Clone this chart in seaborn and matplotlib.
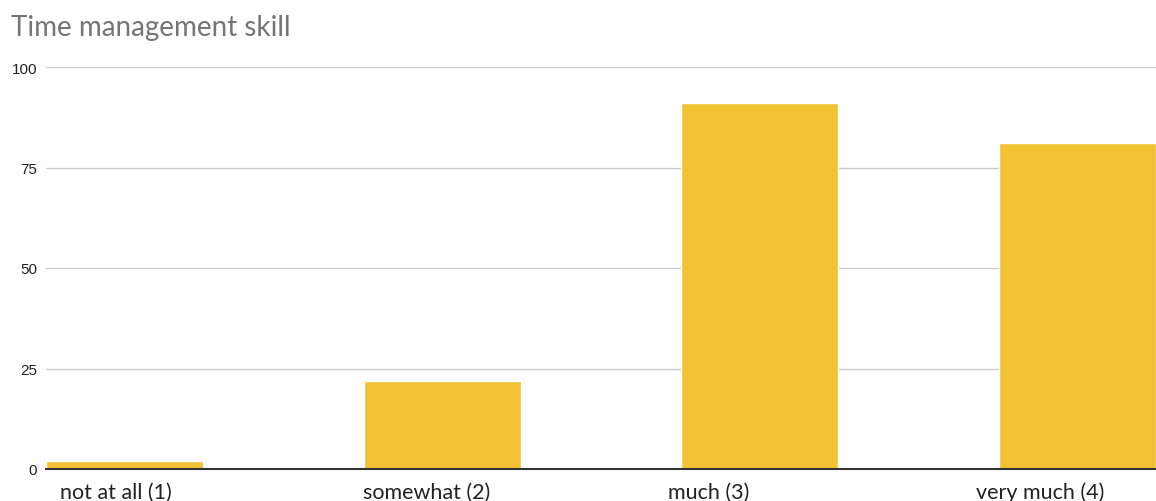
"""
Time management skill - bar chart
"""

import matplotlib
matplotlib.use("Agg")
import matplotlib.pyplot as plt
import matplotlib.transforms as mtransforms
import seaborn as sns
import pandas as pd

# Data
categories = ["not at all (1)", "somewhat (2)", "much (3)", "very much (4)"]
counts = [2, 22, 91, 81]
y_ticks = [0, 25, 50, 75, 100]

df = pd.DataFrame({"Answer": categories, "Count": counts})

sns.set_theme(style="white")
plt.rcParams["font.family"] = ["Lato", "DejaVu Sans"]

fig = plt.figure(figsize=(11.56, 5.02), dpi=100)
ax = fig.add_axes([46 / 1156, 1 - 470 / 502, 1 - 46 / 1156, 402 / 502])

sns.barplot(data=df, x="Answer", y="Count", color="#F1C232", width=0.494,
            saturation=1, ax=ax, zorder=3)

ax.set_xlim(-0.247, 3.247)
ax.set_ylim(0, 100)
ax.set_yticks(y_ticks)
ax.set_yticklabels([str(t) for t in y_ticks], fontsize=11,
                   family=["Liberation Sans", "DejaVu Sans"], color="#222222")
ax.tick_params(axis="y", length=0, pad=6.5)
ax.tick_params(axis="x", length=0, pad=9, labelsize=15.5, colors="#222222")

# the category labels in the original sit a bit left of their bars
label_shift_px = [-9, -16, -51, -37]
for lab, dx in zip(ax.get_xticklabels(), label_shift_px):
    lab.set_transform(lab.get_transform() +
                      mtransforms.ScaledTranslation(dx / 100, 0, fig.dpi_scale_trans))

ax.grid(axis="y", color="#cccccc", linewidth=1, zorder=0)
for s in ["top", "right", "left"]:
    ax.spines[s].set_visible(False)
ax.spines["bottom"].set_color("#333333")
ax.spines["bottom"].set_linewidth(1.5)
ax.spines["bottom"].set_zorder(4)

ax.set_xlabel("")
ax.set_ylabel("")

fig.text(11 / 1156, 1 - 28 / 502, "Time management skill", fontsize=20,
         color="#757575", va="center", ha="left")

fig.savefig("out.png", dpi=100)
